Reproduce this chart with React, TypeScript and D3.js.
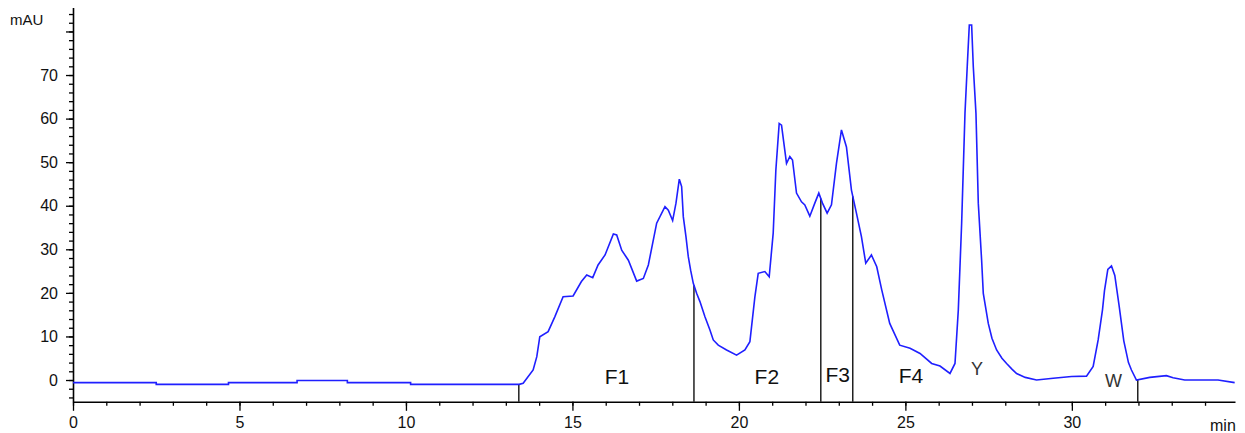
import React, {useEffect, useRef} from 'react';
import * as d3 from 'd3';

// retention time (min) / absorbance (mAU)
const times = [
    0, 2.5, 2.5, 4.67, 4.67, 6.73, 6.73, 8.24, 8.24, 10.14, 10.14, 13.4,
    13.52, 13.82, 13.93, 14.02, 14.27, 14.47, 14.72, 15.02, 15.27, 15.43, 15.61, 15.77, 15.98,
    16.23, 16.33, 16.48, 16.68, 16.93, 17.13, 17.28, 17.53, 17.78, 17.88, 18.01, 18.11, 18.21,
    18.28, 18.33, 18.41, 18.48, 18.55, 18.63, 18.73, 18.83, 18.98, 19.13, 19.23, 19.38, 19.63,
    19.93, 20.18, 20.33, 20.48, 20.58,
    20.78, 20.91, 21.03, 21.11, 21.21, 21.28, 21.43, 21.53, 21.61, 21.73, 21.88, 21.98, 22.13,
    22.28, 22.40, 22.51, 22.65, 22.78, 22.93, 23.08, 23.23, 23.38, 23.53, 23.68, 23.81, 23.98,
    24.14, 24.29, 24.53, 24.83, 25.14, 25.44, 25.79, 26.04, 26.34, 26.49, 26.59, 26.69, 26.79,
    26.86, 26.92, 26.99, 27.04, 27.12, 27.19, 27.29, 27.34, 27.49, 27.6, 27.74, 27.9, 28.04,
    28.2, 28.34, 28.6, 28.94,
    29.44, 29.99, 30.44, 30.64, 30.79, 30.92, 30.98, 31.08, 31.19, 31.29, 31.42, 31.56, 31.7,
    31.79, 31.94, 32.34, 32.84, 33.04, 33.39, 34.39, 34.89
];
const absorbance = [
    -0.6, -0.6, -1.0, -1.0, -0.6, -0.6, -0.1, -0.1, -0.6, -0.6, -1.0, -1.0,
    -0.76, 2.3, 5.35, 9.94, 11.1, 14.5, 19.1, 19.3, 22.6, 24.1, 23.5, 26.4, 28.7,
    33.5, 33.3, 29.8, 27.5, 22.7, 23.3, 26.4, 36.0, 39.8, 39.0, 36.6, 40.6, 46.1,
    44.4, 37.5, 32.9, 28.3, 25.2, 22.2, 19.9, 18.0, 14.5, 11.5, 9.2, 8.0, 6.9,
    5.7, 6.9, 8.8, 19.1, 24.5,
    24.9, 23.7, 33.7, 48.2, 58.9, 58.5, 49.7, 51.3, 50.5, 42.9, 40.9, 40.2, 37.6,
    40.6, 42.9, 40.6, 38.3, 40.2, 49.7, 57.4, 53.5, 43.6, 38.3, 32.9, 26.8, 28.7,
    26.0, 20.7, 13.0, 8.0, 7.3, 6.1, 3.8, 3.2, 1.5, 3.8, 16.1, 36.0, 61.2,
    72.3, 81.5, 81.5, 71.9, 61.2, 40.6, 27.5, 19.9, 13.0, 9.6, 6.9, 5.0, 3.8,
    2.5, 1.5, 0.6, 0.0,
    0.4, 0.8, 0.9, 3.1, 9.2, 16.1, 20.5, 25.4, 26.2, 24.0, 17.0, 9.0, 4.0,
    2.3, 0.0, 0.6, 1.0, 0.5, 0.0, 0.0, -0.6
];

// fraction cut points (min)
const cutTimes = [13.39, 18.65, 22.46, 23.42, 31.98];

// peak / fraction labels
const labelNames = ['F1', 'F2', 'F3', 'F4', 'Y', 'W'];
const labelTimes = [16.34, 20.84, 22.97, 25.17, 27.15, 31.25];
const labelValues = [-0.9, -0.9, -0.5, -0.7, 1.2, -1.5];

const yMajor = [0, 10, 20, 30, 40, 50, 60, 70, 80];
const xMajor = [0, 5, 10, 15, 20, 25, 30];

const App = () => {
    const svgRef = useRef(null);

    useEffect(() => {
        const svg = d3.select(svgRef.current);
        svg.selectAll('*').remove();

        const W = 1245, H = 433;
        const left = 73, right = 1235, top = 7.5, bottom = 401.8;
        const font = '"Liberation Sans", Arial, sans-serif';

        const x = d3.scaleLinear().domain([0, 34.9]).range([left, right]);
        const y = d3.scaleLinear().domain([-5, 85.5]).range([bottom, top]);

        svg.attr('width', W).attr('height', H);

        const data = times.map((t, i) => ({t: t, v: absorbance[i]}));

        // value of the trace at time t
        const bis = d3.bisector(d => d.t).left;
        const valueAt = t => {
            const i = Math.max(1, Math.min(data.length - 1, bis(data, t)));
            const a = data[i - 1], b = data[i];
            const k = (t - a.t) / (b.t - a.t || 1);
            return a.v + (b.v - a.v) * k;
        };

        // minor ticks
        svg.append('g')
            .attr('transform', 'translate(' + left + ',0)')
            .call(d3.axisLeft(y).tickValues(d3.range(-4, 85, 2)).tickSize(4).tickSizeOuter(0).tickFormat(''))
            .call(g => g.select('.domain').remove())
            .selectAll('line').attr('stroke', '#000').attr('stroke-width', 1.3);
        svg.append('g')
            .attr('transform', 'translate(0,' + bottom + ')')
            .call(d3.axisBottom(x).tickValues(d3.range(0, 35, 1)).tickSize(4).tickSizeOuter(0).tickFormat(''))
            .call(g => g.select('.domain').remove())
            .selectAll('line').attr('stroke', '#000').attr('stroke-width', 1.3);

        // major ticks + labels
        const yAxis = svg.append('g')
            .attr('transform', 'translate(' + left + ',0)')
            .call(d3.axisLeft(y).tickValues(yMajor).tickSize(7).tickPadding(8).tickSizeOuter(0)
                .tickFormat(d => d === 80 ? '' : d));
        const xAxis = svg.append('g')
            .attr('transform', 'translate(0,' + bottom + ')')
            .call(d3.axisBottom(x).tickValues(xMajor).tickSize(9).tickPadding(6).tickSizeOuter(0));

        [yAxis, xAxis].forEach(g => {
            g.select('.domain').attr('stroke', '#000').attr('stroke-width', 1.6);
            g.selectAll('line').attr('stroke', '#000').attr('stroke-width', 1.3);
            g.selectAll('text').attr('font-family', font).attr('font-size', 16).attr('fill', '#111');
        });

        svg.append('text')
            .attr('x', 10).attr('y', 25)
            .attr('font-family', font).attr('font-size', 15).attr('fill', '#111')
            .text('mAU');
        svg.append('text')
            .attr('x', 1210).attr('y', 431)
            .attr('font-family', font).attr('font-size', 16).attr('fill', '#111')
            .text('min');

        // fraction cut lines
        svg.append('g').selectAll('line')
            .data(cutTimes)
            .enter().append('line')
            .attr('x1', d => x(d)).attr('x2', d => x(d))
            .attr('y1', bottom).attr('y2', d => y(valueAt(d)))
            .attr('stroke', '#111').attr('stroke-width', 1.4);

        // trace
        const line = d3.line()
            .x(d => x(d.t))
            .y(d => y(d.v));
        svg.append('path')
            .datum(data)
            .attr('d', line)
            .attr('fill', 'none')
            .attr('stroke', '#1f1fff')
            .attr('stroke-width', 1.6);

        svg.append('g').selectAll('text')
            .data(labelNames)
            .enter().append('text')
            .attr('x', (d, i) => x(labelTimes[i]))
            .attr('y', (d, i) => y(labelValues[i]))
            .attr('text-anchor', 'middle')
            .attr('font-family', font)
            .attr('font-size', d => d.length > 1 ? 21 : 18)
            .attr('fill', d => d.length > 1 ? '#111' : '#333')
            .text(d => d);
    }, []);

    return (
        <svg ref={svgRef} style={{position: 'absolute', left: 0, top: 0, background: '#fff'}}/>
    );
};

export default App;
